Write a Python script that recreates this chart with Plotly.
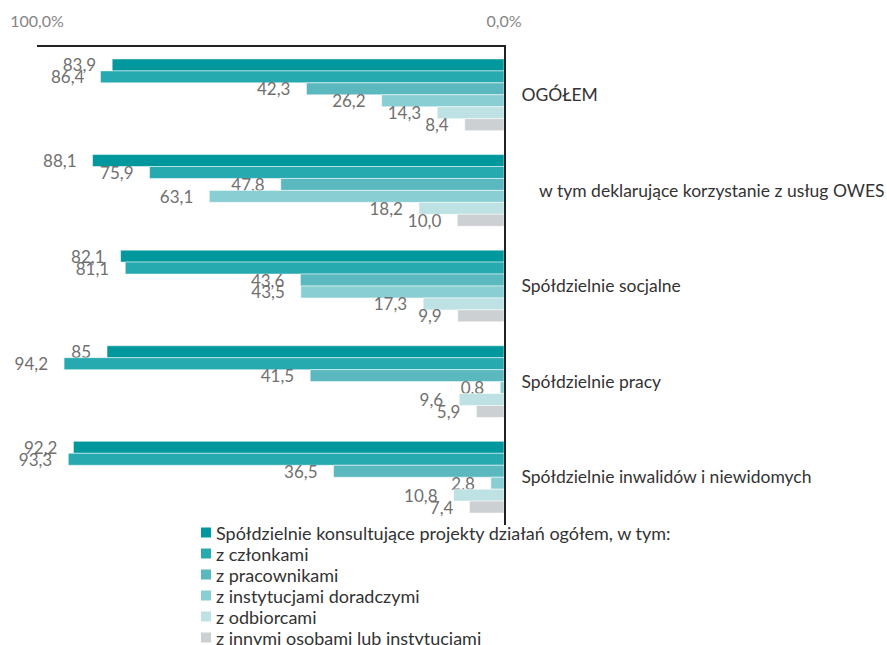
import plotly.graph_objects as go

categories = ['OGÓŁEM',
              '\u00a0\u00a0\u00a0\u00a0w tym deklarujące korzystanie z usług OWES',
              'Spółdzielnie socjalne',
              'Spółdzielnie pracy',
              'Spółdzielnie inwalidów i niewidomych']

series_names = ['Spółdzielnie konsultujące projekty działań ogółem, w tym:',
                'z członkami',
                'z pracownikami',
                'z instytucjami doradczymi',
                'z odbiorcami',
                'z innymi osobami lub instytucjami']

ogolem     = [83.9, 88.1, 82.1, 85,   92.2]
czlonkami  = [86.4, 75.9, 81.1, 94.2, 93.3]
pracown    = [42.3, 47.8, 43.6, 41.5, 36.5]
doradcze   = [26.2, 63.1, 43.5, 0.8,  2.8]
odbiorcy   = [14.3, 18.2, 17.3, 9.6,  10.8]
inne       = [8.4,  10.0, 9.9,  5.9,  7.4]

colors = ['#00979D', '#27A9B0', '#5BB8BF', '#88CED2', '#BEE2E3', '#CDD0D3']

FONT = 'Lato'
PAD = '\u00a0' * 3

# plot area in pixels (used only for placing the hand-made legend)
L, R, T, B = 37, 383, 47, 120
W, H = 887, 645
PW, PH = W - L - R, H - T - B


def fmt(v):
    # 85 is printed without decimals in the source
    if isinstance(v, int):
        return str(v) + PAD
    return f'{v:.1f}'.replace('.', ',') + PAD


fig = go.Figure()
for name, vals, col in zip(series_names,
                           [ogolem, czlonkami, pracown, doradcze, odbiorcy, inne],
                           colors):
    fig.add_trace(go.Bar(y=categories, x=vals, name=name, orientation='h',
                         marker=dict(color=col, line=dict(color='white', width=0.5)),
                         text=[fmt(v) for v in vals],
                         textposition='outside', constraintext='none', cliponaxis=False,
                         textfont=dict(family=FONT, size=17, color='#707070'),
                         showlegend=False))

# legend drawn by hand so the rows can sit as tightly as in the original
for i, (name, col) in enumerate(zip(series_names, colors)):
    yc = 532.5 + 21 * i
    fig.add_shape(type='rect', xref='paper', yref='paper',
                  x0=(201 - L) / PW, x1=(211 - L) / PW,
                  y0=(T + PH - yc - 5) / PH, y1=(T + PH - yc + 5) / PH,
                  fillcolor=col, line=dict(width=0))
    fig.add_annotation(text=name, xref='paper', yref='paper',
                       x=(214 - L) / PW, y=(T + PH - yc) / PH,
                       xanchor='left', yanchor='middle', showarrow=False,
                       font=dict(family=FONT, size=18, color='#333333'))

fig.update_layout(
    width=W, height=H,
    margin=dict(l=L, r=R, t=T, b=B),
    barmode='group', bargap=0.25, bargroupgap=0,
    plot_bgcolor='white', paper_bgcolor='white',
    font=dict(family=FONT, size=17, color='#333333'),
    showlegend=False,
    xaxis=dict(range=[100, 0], side='top', showgrid=False, zeroline=False,
               showline=True, linecolor='#222222', linewidth=2,
               ticks='inside', ticklen=7, tickwidth=2, tickcolor='#222222',
               tickvals=[100, 0], ticktext=['100,0%', '0,0%'],
               ticklabelstandoff=12, automargin=False,
               tickfont=dict(family=FONT, size=16, color='#858585')),
    yaxis=dict(autorange='reversed', side='right', showgrid=False, zeroline=False,
               showline=True, linecolor='#222222', linewidth=2, ticks='',
               ticklabelstandoff=12, automargin=False,
               tickfont=dict(family=FONT, size=17.5, color='#333333')),
)

fig.write_html('out.html', config={'displayModeBar': False},
               post_script="document.body.style.margin='0px';")
